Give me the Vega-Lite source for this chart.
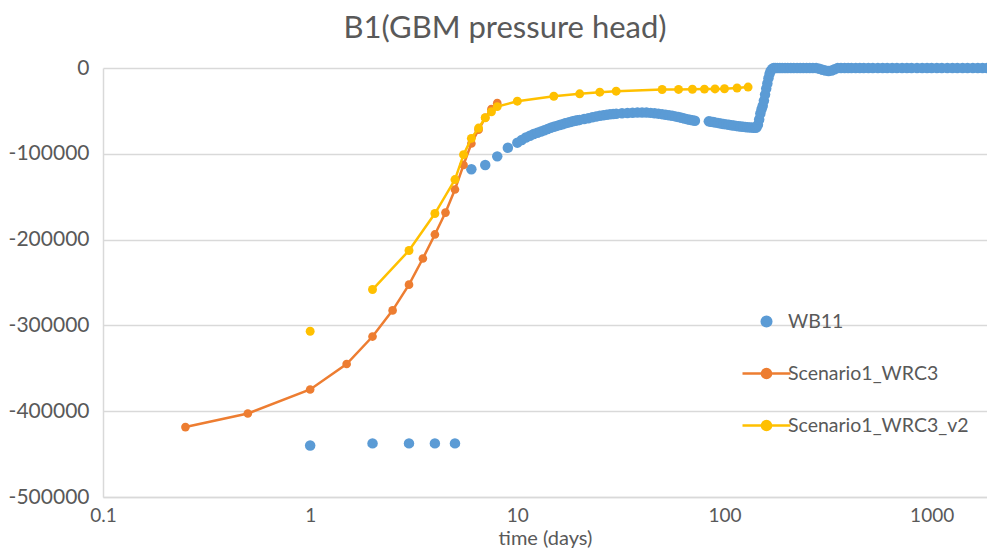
{
  "$schema": "https://vega.github.io/schema/vega-lite/v6.json",
  "width": 884,
  "height": 429,
  "autosize": "none",
  "padding": {"left": 103, "top": 68, "right": 0, "bottom": 53},
  "background": "white",
  "title": {
    "text": "B1(GBM pressure head)",
    "font": "Lato",
    "fontSize": 31,
    "fontWeight": "normal",
    "color": "#595959",
    "anchor": "middle",
    "dx": -40,
    "offset": 12
  },
  "config": {
    "view": {"stroke": null},
    "font": "Lato"
  },
  "data": {
    "values": [
      {"series": "WB11", "t": 1, "head": -440000},
      {"series": "WB11", "t": 2, "head": -437500},
      {"series": "WB11", "t": 3, "head": -437500},
      {"series": "WB11", "t": 4, "head": -437500},
      {"series": "WB11", "t": 5, "head": -437500},
      {"series": "WB11", "t": 6, "head": -118000},
      {"series": "WB11", "t": 7, "head": -113000},
      {"series": "WB11", "t": 8, "head": -103000},
      {"series": "WB11", "t": 9, "head": -93000},
      {"series": "WB11", "t": 10, "head": -87000},
      {"series": "WB11", "t": 10.5, "head": -84000},
      {"series": "WB11", "t": 11, "head": -81000},
      {"series": "WB11", "t": 11.5, "head": -79000},
      {"series": "WB11", "t": 12, "head": -77000},
      {"series": "WB11", "t": 12.5, "head": -75500},
      {"series": "WB11", "t": 13, "head": -74000},
      {"series": "WB11", "t": 13.5, "head": -72500},
      {"series": "WB11", "t": 14, "head": -71000},
      {"series": "WB11", "t": 14.5, "head": -69700},
      {"series": "WB11", "t": 15, "head": -68500},
      {"series": "WB11", "t": 15.5, "head": -67500},
      {"series": "WB11", "t": 16, "head": -66500},
      {"series": "WB11", "t": 16.5, "head": -65500},
      {"series": "WB11", "t": 17, "head": -64500},
      {"series": "WB11", "t": 17.5, "head": -63700},
      {"series": "WB11", "t": 18, "head": -63000},
      {"series": "WB11", "t": 18.5, "head": -62200},
      {"series": "WB11", "t": 19, "head": -61500},
      {"series": "WB11", "t": 19.5, "head": -61000},
      {"series": "WB11", "t": 20, "head": -60500},
      {"series": "WB11", "t": 21, "head": -59500},
      {"series": "WB11", "t": 22, "head": -58500},
      {"series": "WB11", "t": 23, "head": -57500},
      {"series": "WB11", "t": 24, "head": -56500},
      {"series": "WB11", "t": 25, "head": -55700},
      {"series": "WB11", "t": 26, "head": -55000},
      {"series": "WB11", "t": 27, "head": -54500},
      {"series": "WB11", "t": 28, "head": -54000},
      {"series": "WB11", "t": 29, "head": -53600},
      {"series": "WB11", "t": 30, "head": -53300},
      {"series": "WB11", "t": 32, "head": -52800},
      {"series": "WB11", "t": 34, "head": -52400},
      {"series": "WB11", "t": 36, "head": -52100},
      {"series": "WB11", "t": 38, "head": -52000},
      {"series": "WB11", "t": 40, "head": -51900},
      {"series": "WB11", "t": 42, "head": -52000},
      {"series": "WB11", "t": 44, "head": -52300},
      {"series": "WB11", "t": 46, "head": -52700},
      {"series": "WB11", "t": 48, "head": -53200},
      {"series": "WB11", "t": 50, "head": -53800},
      {"series": "WB11", "t": 52, "head": -54400},
      {"series": "WB11", "t": 54, "head": -55000},
      {"series": "WB11", "t": 56, "head": -55700},
      {"series": "WB11", "t": 58, "head": -56400},
      {"series": "WB11", "t": 60, "head": -57200},
      {"series": "WB11", "t": 62, "head": -58000},
      {"series": "WB11", "t": 64, "head": -58800},
      {"series": "WB11", "t": 66, "head": -59600},
      {"series": "WB11", "t": 68, "head": -60300},
      {"series": "WB11", "t": 70, "head": -61000},
      {"series": "WB11", "t": 72, "head": -61500},
      {"series": "WB11", "t": 84, "head": -62200},
      {"series": "WB11", "t": 86, "head": -62600},
      {"series": "WB11", "t": 88, "head": -63000},
      {"series": "WB11", "t": 90, "head": -63400},
      {"series": "WB11", "t": 93, "head": -64000},
      {"series": "WB11", "t": 96, "head": -64600},
      {"series": "WB11", "t": 99, "head": -65200},
      {"series": "WB11", "t": 102, "head": -65700},
      {"series": "WB11", "t": 105, "head": -66200},
      {"series": "WB11", "t": 108, "head": -66700},
      {"series": "WB11", "t": 111, "head": -67100},
      {"series": "WB11", "t": 114, "head": -67500},
      {"series": "WB11", "t": 117, "head": -67900},
      {"series": "WB11", "t": 120, "head": -68200},
      {"series": "WB11", "t": 123, "head": -68500},
      {"series": "WB11", "t": 126, "head": -68800},
      {"series": "WB11", "t": 129, "head": -69000},
      {"series": "WB11", "t": 132, "head": -69200},
      {"series": "WB11", "t": 135, "head": -69400},
      {"series": "WB11", "t": 138, "head": -69500},
      {"series": "WB11", "t": 141, "head": -69600},
      {"series": "WB11", "t": 143, "head": -69000},
      {"series": "WB11", "t": 145, "head": -66000},
      {"series": "WB11", "t": 147, "head": -60000},
      {"series": "WB11", "t": 149, "head": -53000},
      {"series": "WB11", "t": 151, "head": -48000},
      {"series": "WB11", "t": 153, "head": -44000},
      {"series": "WB11", "t": 155, "head": -38000},
      {"series": "WB11", "t": 157, "head": -31000},
      {"series": "WB11", "t": 159, "head": -24000},
      {"series": "WB11", "t": 161, "head": -18000},
      {"series": "WB11", "t": 163, "head": -12000},
      {"series": "WB11", "t": 165, "head": -7000},
      {"series": "WB11", "t": 167, "head": -3500},
      {"series": "WB11", "t": 170, "head": -1000},
      {"series": "WB11", "t": 173, "head": 0},
      {"series": "WB11", "t": 176, "head": 0},
      {"series": "WB11", "t": 180, "head": 0},
      {"series": "WB11", "t": 185, "head": 0},
      {"series": "WB11", "t": 190, "head": 0},
      {"series": "WB11", "t": 196, "head": 0},
      {"series": "WB11", "t": 202, "head": 0},
      {"series": "WB11", "t": 209, "head": 0},
      {"series": "WB11", "t": 216, "head": 0},
      {"series": "WB11", "t": 224, "head": 0},
      {"series": "WB11", "t": 232, "head": 0},
      {"series": "WB11", "t": 240, "head": 0},
      {"series": "WB11", "t": 249, "head": 0},
      {"series": "WB11", "t": 258, "head": 0},
      {"series": "WB11", "t": 267, "head": 0},
      {"series": "WB11", "t": 277, "head": 0},
      {"series": "WB11", "t": 287, "head": -800},
      {"series": "WB11", "t": 297, "head": -2000},
      {"series": "WB11", "t": 307, "head": -3000},
      {"series": "WB11", "t": 318, "head": -3500},
      {"series": "WB11", "t": 329, "head": -3000},
      {"series": "WB11", "t": 340, "head": -1500},
      {"series": "WB11", "t": 352, "head": 0},
      {"series": "WB11", "t": 365, "head": 0},
      {"series": "WB11", "t": 380, "head": 0},
      {"series": "WB11", "t": 395, "head": 0},
      {"series": "WB11", "t": 410, "head": 0},
      {"series": "WB11", "t": 430, "head": 0},
      {"series": "WB11", "t": 450, "head": 0},
      {"series": "WB11", "t": 470, "head": 0},
      {"series": "WB11", "t": 495, "head": 0},
      {"series": "WB11", "t": 520, "head": 0},
      {"series": "WB11", "t": 550, "head": 0},
      {"series": "WB11", "t": 580, "head": 0},
      {"series": "WB11", "t": 610, "head": 0},
      {"series": "WB11", "t": 645, "head": 0},
      {"series": "WB11", "t": 680, "head": 0},
      {"series": "WB11", "t": 720, "head": 0},
      {"series": "WB11", "t": 760, "head": 0},
      {"series": "WB11", "t": 800, "head": 0},
      {"series": "WB11", "t": 850, "head": 0},
      {"series": "WB11", "t": 900, "head": 0},
      {"series": "WB11", "t": 950, "head": 0},
      {"series": "WB11", "t": 1000, "head": 0},
      {"series": "WB11", "t": 1060, "head": 0},
      {"series": "WB11", "t": 1120, "head": 0},
      {"series": "WB11", "t": 1190, "head": 0},
      {"series": "WB11", "t": 1260, "head": 0},
      {"series": "WB11", "t": 1330, "head": 0},
      {"series": "WB11", "t": 1410, "head": 0},
      {"series": "WB11", "t": 1490, "head": 0},
      {"series": "WB11", "t": 1580, "head": 0},
      {"series": "WB11", "t": 1670, "head": 0},
      {"series": "WB11", "t": 1760, "head": 0},
      {"series": "WB11", "t": 1850, "head": 0},

      {"series": "Scenario1_WRC3", "t": 0.25, "head": -418500},
      {"series": "Scenario1_WRC3", "t": 0.5, "head": -402700},
      {"series": "Scenario1_WRC3", "t": 1, "head": -374700},
      {"series": "Scenario1_WRC3", "t": 1.5, "head": -345000},
      {"series": "Scenario1_WRC3", "t": 2, "head": -313000},
      {"series": "Scenario1_WRC3", "t": 2.5, "head": -282500},
      {"series": "Scenario1_WRC3", "t": 3, "head": -252500},
      {"series": "Scenario1_WRC3", "t": 3.5, "head": -222000},
      {"series": "Scenario1_WRC3", "t": 4, "head": -194000},
      {"series": "Scenario1_WRC3", "t": 4.5, "head": -168500},
      {"series": "Scenario1_WRC3", "t": 5, "head": -141600},
      {"series": "Scenario1_WRC3", "t": 5.5, "head": -113000},
      {"series": "Scenario1_WRC3", "t": 6, "head": -88000},
      {"series": "Scenario1_WRC3", "t": 6.5, "head": -72000},
      {"series": "Scenario1_WRC3", "t": 7, "head": -58000},
      {"series": "Scenario1_WRC3", "t": 7.5, "head": -48000},
      {"series": "Scenario1_WRC3", "t": 8, "head": -41000},

      {"series": "Scenario1_WRC3_v2", "t": 1, "head": -306800},
      {"series": "Scenario1_WRC3_v2", "t": 2, "head": -258200},
      {"series": "Scenario1_WRC3_v2", "t": 3, "head": -212700},
      {"series": "Scenario1_WRC3_v2", "t": 4, "head": -169600},
      {"series": "Scenario1_WRC3_v2", "t": 5, "head": -130000},
      {"series": "Scenario1_WRC3_v2", "t": 5.5, "head": -101000},
      {"series": "Scenario1_WRC3_v2", "t": 6, "head": -82000},
      {"series": "Scenario1_WRC3_v2", "t": 6.5, "head": -70000},
      {"series": "Scenario1_WRC3_v2", "t": 7, "head": -58000},
      {"series": "Scenario1_WRC3_v2", "t": 7.5, "head": -51000},
      {"series": "Scenario1_WRC3_v2", "t": 8, "head": -45000},
      {"series": "Scenario1_WRC3_v2", "t": 10, "head": -38700},
      {"series": "Scenario1_WRC3_v2", "t": 15, "head": -32900},
      {"series": "Scenario1_WRC3_v2", "t": 20, "head": -30100},
      {"series": "Scenario1_WRC3_v2", "t": 25, "head": -28200},
      {"series": "Scenario1_WRC3_v2", "t": 30, "head": -27000},
      {"series": "Scenario1_WRC3_v2", "t": 50, "head": -25100},
      {"series": "Scenario1_WRC3_v2", "t": 60, "head": -25000},
      {"series": "Scenario1_WRC3_v2", "t": 70, "head": -24800},
      {"series": "Scenario1_WRC3_v2", "t": 80, "head": -24600},
      {"series": "Scenario1_WRC3_v2", "t": 90, "head": -24400},
      {"series": "Scenario1_WRC3_v2", "t": 100, "head": -24200},
      {"series": "Scenario1_WRC3_v2", "t": 115, "head": -23300},
      {"series": "Scenario1_WRC3_v2", "t": 130, "head": -22200}
    ]
  },
  "encoding": {
    "x": {
      "field": "t",
      "type": "quantitative",
      "scale": {"type": "log", "domain": [0.1, 1850], "nice": false},
      "axis": {
        "title": "time (days)",
        "values": [0.1, 1, 10, 100, 1000],
        "format": "~g",
        "grid": false,
        "ticks": false,
        "domainColor": "#d9d9d9",
        "domainWidth": 1.5,
        "labelFont": "Lato",
        "labelFontSize": 19,
        "labelColor": "#595959",
        "labelPadding": 9,
        "labelFlush": false,
        "titleFont": "Lato",
        "titleFontSize": 20,
        "titleFontWeight": "normal",
        "titleColor": "#595959",
        "titlePadding": 3
      }
    },
    "y": {
      "field": "head",
      "type": "quantitative",
      "scale": {"domain": [-500000, 0], "nice": false, "zero": false},
      "axis": {
        "title": null,
        "values": [-500000, -400000, -300000, -200000, -100000, 0],
        "labelExpr": "'' + datum.value",
        "grid": true,
        "gridColor": "#d9d9d9",
        "gridWidth": 1.5,
        "ticks": false,
        "domainColor": "#d9d9d9",
        "domainWidth": 1.5,
        "labelFont": "Lato",
        "labelFontSize": 21,
        "labelColor": "#595959",
        "labelPadding": 14
      }
    },
    "color": {
      "field": "series",
      "type": "nominal",
      "scale": {
        "domain": ["WB11", "Scenario1_WRC3", "Scenario1_WRC3_v2"],
        "range": ["#5b9bd5", "#ed7d31", "#ffc000"]
      },
      "legend": null
    }
  },
  "layer": [
    {
      "transform": [{"filter": "datum.series === 'WB11'"}],
      "mark": {"type": "point", "filled": true, "opacity": 1, "size": 110},
      "encoding": {
        "color": {
          "field": "series",
          "type": "nominal",
          "legend": {
            "orient": "none",
            "legendX": 638,
            "legendY": 228,
            "title": null,
            "padding": 0,
            "symbolSize": 2304,
            "symbolStrokeWidth": 2.5,
            "symbolOpacity": 1,
            "rowPadding": 16,
            "labelOffset": -4,
            "labelLimit": 400,
            "labelFont": "Lato",
            "labelFontSize": 19.5,
            "labelColor": "#595959",
            "encode": {
              "symbols": {
                "update": {
                  "shape": {"signal": "datum.value === 'WB11' ? 'M-0.2,0A0.2,0.2,0,1,0,0.2,0A0.2,0.2,0,1,0,-0.2,0Z' : 'M-1,0L1,0M-0.19,0A0.19,0.19,0,1,0,0.19,0A0.19,0.19,0,1,0,-0.19,0Z'"},
                  "fill": {"scale": "color", "field": "value"},
                  "stroke": {"scale": "color", "field": "value"},
                  "strokeWidth": {"value": 2.5},
                  "opacity": {"value": 1}
                }
              }
            }
          }
        }
      }
    },
    {
      "transform": [{"filter": "datum.series === 'Scenario1_WRC3'"}],
      "mark": {"type": "line", "strokeWidth": 2.5},
      "encoding": {}
    },
    {
      "transform": [{"filter": "datum.series === 'Scenario1_WRC3'"}],
      "mark": {"type": "point", "filled": true, "opacity": 1, "size": 75},
      "encoding": {}
    },
    {
      "transform": [{"filter": "datum.series === 'Scenario1_WRC3_v2' && datum.t >= 2"}],
      "mark": {"type": "line", "strokeWidth": 2.5},
      "encoding": {}
    },
    {
      "transform": [{"filter": "datum.series === 'Scenario1_WRC3_v2'"}],
      "mark": {"type": "point", "filled": true, "opacity": 1, "size": 80},
      "encoding": {}
    }
  ]
}
